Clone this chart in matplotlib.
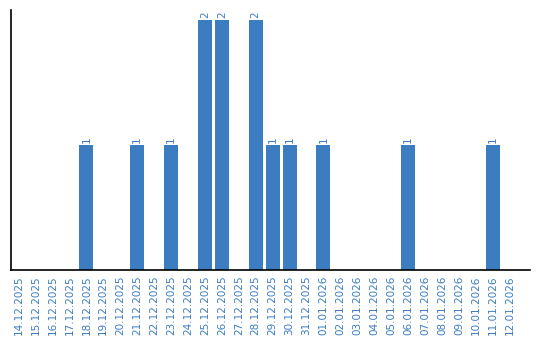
import numpy as np
import matplotlib.pyplot as plt
import datetime as dt

start = dt.date(2025, 12, 14)
dates = [(start + dt.timedelta(days=i)).strftime("%d.%m.%Y") for i in range(30)]
counts_by_date = {
    "18.12.2025": 1, "21.12.2025": 1, "23.12.2025": 1,
    "25.12.2025": 2, "26.12.2025": 2, "28.12.2025": 2,
    "29.12.2025": 1, "30.12.2025": 1, "01.01.2026": 1,
    "06.01.2026": 1, "11.01.2026": 1,
}
counts = [counts_by_date.get(d, 0) for d in dates]

blue = "#3c7dc1"
fig = plt.figure(figsize=(5.4, 3.4), dpi=100)
ax = fig.add_axes([0.0204, 0.206, 0.9611, 0.764])
x = np.arange(len(dates))
bars = ax.bar(x, counts, width=0.82, color=blue)
for xi, c in zip(x, counts):
    if c > 0:
        ax.text(xi, c + 0.02, str(c), rotation=90, ha="center", va="bottom",
                fontsize=7.5, color=blue)

ax.set_xticks(x)
ax.set_xticklabels(dates, rotation=90, fontsize=7.5, color=blue)
ax.tick_params(axis="x", length=0, pad=4)
ax.set_yticks([])
ax.set_xlim(-0.45, 30.2)
ax.set_ylim(0, 2.08)
for s in ["top", "right"]:
    ax.spines[s].set_visible(False)
ax.spines["left"].set_linewidth(1.2)
ax.spines["bottom"].set_linewidth(1.2)
fig.savefig("out.png", dpi=100)
